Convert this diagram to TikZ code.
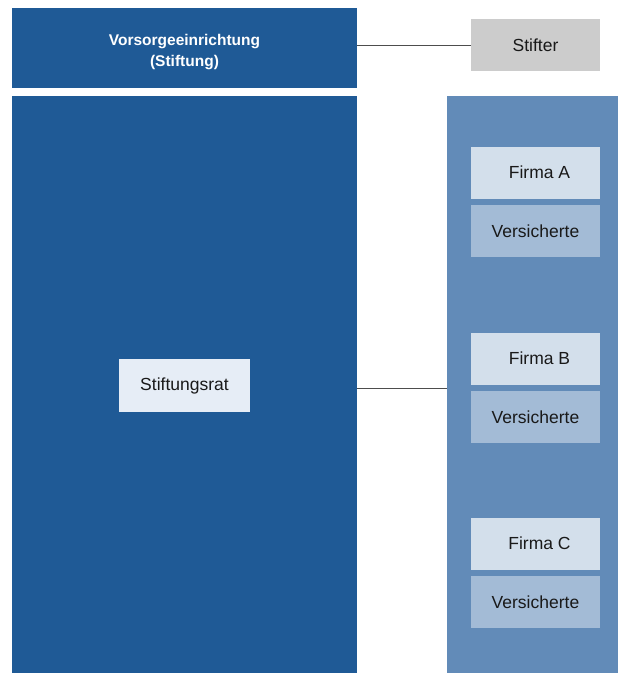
\documentclass[tikz,border=0pt]{standalone}
\usepackage{fontspec}
\setmainfont{Liberation Sans}
\usepackage{xcolor}
\usetikzlibrary{positioning}

\definecolor{darkblue}{HTML}{1F5A96}
\definecolor{panelblue}{HTML}{628BB8}
\definecolor{firmablue}{HTML}{D3DFEB}
\definecolor{versblue}{HTML}{A3BBD6}
\definecolor{ratblue}{HTML}{E6EDF6}
\definecolor{stiftergray}{HTML}{CCCCCC}
\definecolor{linegray}{HTML}{4D4D4D}

\begin{document}
\begin{tikzpicture}[x=1pt,y=-1pt,
            box/.style={inner sep=0pt,outer sep=0pt,
                font=\fontsize{17.5}{20}\selectfont,text=black!90},
            small/.style={box,minimum width=129pt,minimum height=52pt},
            firma/.style={small,fill=firmablue},
            vers/.style={small,fill=versblue},
            link/.style={draw=linegray,line width=0.9pt}]
        \useasboundingbox (0,0) rectangle (618,673);
        % left column
        \node[box,fill=darkblue,minimum width=345pt,minimum height=80pt]
            (vorsorge) at (184.5,48) {};
        \node[text=white,align=center,yshift=-4pt,
            font=\bfseries\fontsize{15.5}{21}\selectfont]
            (titel) at (vorsorge.center) {Vorsorgeeinrichtung\\(Stiftung)};
        \node[box,fill=darkblue,minimum width=345pt,minimum height=577pt]
            (rat) at (184.5,384.5) {};
        \node[box,fill=ratblue,minimum width=131pt,minimum height=53pt]
            (stiftungsrat) at (184.5,385.5) {Stiftungsrat};
        % right column
        \node[small,fill=stiftergray] (stifter) at (535.5,45) {Stifter};
        \node[box,fill=panelblue,minimum width=171pt,minimum height=577pt]
            (firmen) at (532.5,384.5) {};
        \node[firma] (firmaA) at (535.5,172.5) {\hspace{8pt}Firma A};
        \node[vers] (versA) at (535.5,231) {Versicherte};
        \node[firma] (firmaB) at (535.5,358.5) {\hspace{8pt}Firma B};
        \node[vers] (versB) at (535.5,417) {Versicherte};
        \node[firma] (firmaC) at (535.5,543.5) {\hspace{8pt}Firma C};
        \node[vers] (versC) at (535.5,602) {Versicherte};
        % links
        \draw[link] (stifter.west) -- (stifter.west -| vorsorge.east);
        \draw[link] (rat.east |- 0,388) -- (firmen.west |- 0,388);
    \end{tikzpicture}
\end{document}
